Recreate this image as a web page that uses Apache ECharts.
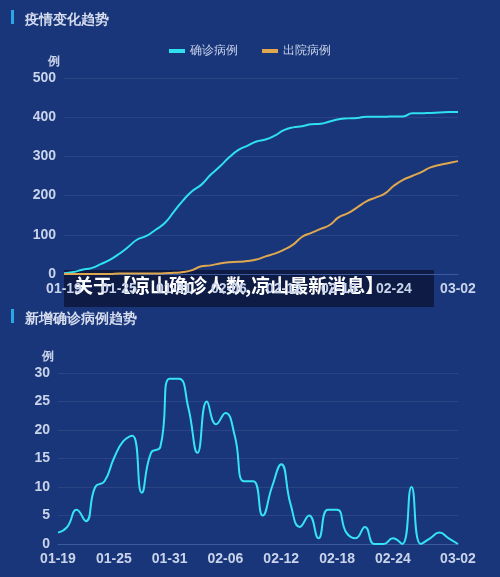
<!DOCTYPE html>
<html><head><meta charset="utf-8">
<script src="https://cdn.jsdelivr.net/npm/echarts@6/dist/echarts.min.js"></script>
<style>html,body{margin:0;padding:0;background:#19367a}#c{width:500px;height:577px}</style>
</head><body><div id="c"></div>
<script>
const dates=['01-19','01-20','01-21','01-22','01-23','01-24','01-25','01-26','01-27','01-28','01-29','01-30','01-31','02-01','02-02','02-03','02-04','02-05','02-06','02-07','02-08','02-09','02-10','02-11','02-12','02-13','02-14','02-15','02-16','02-17','02-18','02-19','02-20','02-21','02-22','02-23','02-24','02-25','02-26','02-27','02-28','02-29','03-01','03-02'];
const confirmed=[2,5,11,15,25,36,51,69,88,97,113,130,159,188,212,228,253,274,297,316,327,338,343,353,367,374,377,382,383,389,395,397,398,401,401,401,402,402,410,410,411,412,413,413];
const discharged=[0,0,0,0,0,0,1,1,1,1,1,2,3,5,10,20,22,27,30,31,33,37,45,52,62,75,95,105,115,125,145,155,170,185,195,205,225,240,250,260,272,278,283,288];
const daily=[2,3,6,4,10,11,15,18,19,9,16,17,29,29,24,16,25,21,23,19,11,11,5,10,14,7,3,5,1,6,6,2,1,3,0,0,1,0,10,0,1,2,1,0];
const lblInt=(i)=> (i%6===0 && i<42) || i===43;
const axC='#c9d3ea', splitC='rgba(255,255,255,0.08)';
const xa=(g)=>({type:'category',gridIndex:g,data:dates,boundaryGap:false,
  axisLine:{lineStyle:{color:'#3c5aa0'}},axisTick:{show:false},
  axisLabel:{color:axC,fontSize:14,fontWeight:'bold',interval:lblInt,margin:8}});
const ya=(g,max,intv)=>({type:'value',gridIndex:g,min:0,max:max,interval:intv,name:'例',
  nameTextStyle:{color:axC,fontSize:12,fontWeight:'bold',padding:[0,20,0,0]},nameGap:10,
  axisLine:{show:false},axisTick:{show:false},axisLabel:{color:axC,fontSize:14,fontWeight:'bold'},
  splitLine:{lineStyle:{color:splitC}}});
const ch=echarts.init(document.getElementById('c'));
ch.setOption({
  backgroundColor:'#19367a',
  title:[{text:'疫情变化趋势',left:20,top:8,textStyle:{color:'#d5dcee',fontSize:14,fontWeight:'bold'}},
         {text:'新增确诊病例趋势',left:20,top:307,textStyle:{color:'#d5dcee',fontSize:14,fontWeight:'bold'}}],
  legend:{top:40,left:'center',itemWidth:16,itemHeight:4,itemGap:24,icon:'rect',textStyle:{color:axC,fontSize:12},data:['确诊病例','出院病例']},
  grid:[{left:64,right:42,top:78,height:196},{left:58,right:42,top:373,height:171}],
  xAxis:[xa(0),xa(1)],
  yAxis:[ya(0,500,100),ya(1,30,5)],
  series:[
    {name:'确诊病例',type:'line',xAxisIndex:0,yAxisIndex:0,data:confirmed,smooth:true,showSymbol:false,lineStyle:{color:'#2fe0ef',width:2},itemStyle:{color:'#2fe0ef'}},
    {name:'出院病例',type:'line',xAxisIndex:0,yAxisIndex:0,data:discharged,smooth:true,showSymbol:false,lineStyle:{color:'#e0a84e',width:2},itemStyle:{color:'#e0a84e'}},
    {name:'新增',type:'line',xAxisIndex:1,yAxisIndex:1,data:daily,smooth:true,showSymbol:false,lineStyle:{color:'#35e3f2',width:2}}
  ],
  graphic:[
    {type:'rect',left:11,top:10,shape:{width:3,height:14},style:{fill:'#2aa7e8'}},
    {type:'rect',left:11,top:309,shape:{width:3,height:14},style:{fill:'#2aa7e8'}},
    {type:'rect',left:64,top:270,shape:{width:370,height:37},style:{fill:'rgba(12,22,60,0.85)'}},
    {type:'text',left:74,top:276,style:{text:'关于【凉山确诊人数,凉山最新消息】',fill:'#ffffff',font:'bold 19px "Noto Sans CJK SC"'}}
  ]
});
</script></body></html>
